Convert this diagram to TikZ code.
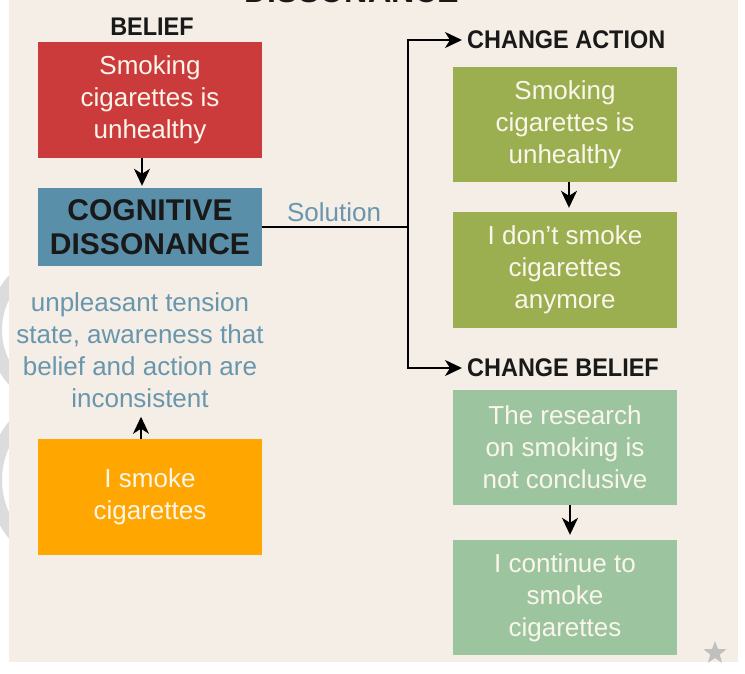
\documentclass[tikz,border=0pt]{standalone}
\usepackage{fontspec}
\setmainfont{Liberation Sans}
\newfontfamily\hdfont[FakeStretch=0.92]{Liberation Sans}
\usetikzlibrary{arrows.meta,shapes.geometric}
\definecolor{bg}{HTML}{F4EEE6}
\definecolor{cred}{HTML}{CC3B3B}
\definecolor{cblue}{HTML}{5A8FAA}
\definecolor{colive}{HTML}{9BAF50}
\definecolor{csage}{HTML}{9CC49E}
\definecolor{corange}{HTML}{FFA600}
\definecolor{ctxt}{HTML}{6996AD}
\definecolor{cwhite}{HTML}{FBF6EC}
\definecolor{wm}{HTML}{DCDCDC}
\begin{document}
\begin{tikzpicture}[x=1pt,y=-1pt,
  box/.style={minimum width=224pt,inner sep=0pt,align=center,text=cwhite,font=\fontsize{26}{32}\selectfont},
  tall/.style={box,minimum height=116pt},
  hd/.style={font=\hdfont\bfseries\fontsize{25.5}{30}\selectfont,inner sep=0pt,text=black!90},
  arr/.style={line width=1.8pt,-{Stealth[length=17pt,width=16pt,inset=5pt]}},
  ln/.style={line width=1.8pt}]
\useasboundingbox (0,0) rectangle (745,673);
\fill[white] (0,0) rectangle (745,673);
% watermark fragments at the left edge
\begin{scope}
  \clip (0,230) rectangle (12,580);
  \draw[wm,line width=14pt] (70,330) circle (75);
  \draw[wm,line width=14pt] (80,480) circle (85);
\end{scope}
\fill[bg] (9,0) rectangle (738,662);
% clipped title
\begin{scope}
  \clip (9,0) rectangle (738,662);
  \node[hd,font=\hdfont\bfseries\fontsize{35}{40}\selectfont,anchor=base] (title) at (352,2) {DISSONANCE};
\end{scope}
% left column
\node[hd] (bl) at (152,27) {BELIEF};
\node[tall,fill=cred] (belief) at (150,100) {Smoking\\cigarettes is\\unhealthy};
\node[box,minimum height=78pt,fill=cblue,text=black!90,font=\bfseries\fontsize{30}{34}\selectfont] (cd) at (150,227) {COGNITIVE\\DISSONANCE};
\node[align=center,text=ctxt,font=\fontsize{26}{32}\selectfont,inner sep=0pt] (tension) at (140,350) {unpleasant tension\\state, awareness that\\belief and action are\\inconsistent};
\node[tall,fill=corange] (act) at (150,497) {I smoke\\cigarettes};
\draw[arr,shorten >=2pt] ([xshift=-8pt]belief.south) -- ([xshift=-8pt]cd.north);
\draw[arr,shorten >=9pt] ([xshift=-9pt]act.north) -- ([xshift=-9pt]act.north |- tension.south);
% solution connector
\node[text=ctxt,font=\fontsize{26}{32}\selectfont,inner sep=0pt] (sol) at (334,212) {Solution};
\coordinate (j) at (408,227);
\draw[ln] (cd.east) -- (j);
\node[hd,anchor=west,inner xsep=5pt] (ca) at (462,40) {CHANGE ACTION};
\node[hd,anchor=west,inner xsep=5pt] (cb) at (462,368) {CHANGE BELIEF};
\draw[arr] (j) |- (ca.west);
\draw[arr] (j) |- (cb.west);
% right column
\node[tall,minimum height=115pt,fill=colive] (g1) at (565,124.5) {Smoking\\cigarettes is\\unhealthy};
\node[tall,fill=colive] (g2) at (565,270) {I don’t smoke\\cigarettes\\anymore};
\node[tall,minimum height=115pt,fill=csage] (s1) at (565,447.5) {The research\\on smoking is\\not conclusive};
\node[tall,minimum height=115pt,fill=csage] (s2) at (565,597.5) {I continue to\\smoke\\cigarettes};
\draw[arr,shorten >=4pt] ([xshift=4pt]g1.south) -- ([xshift=4pt]g2.north);
\draw[arr,shorten >=5pt] ([xshift=5pt]s1.south) -- ([xshift=5pt]s2.north);
% star
\node[star,star points=5,star point ratio=2.4,fill=gray!50,minimum size=24pt,inner sep=0pt] (st) at (715,653) {};
\end{tikzpicture}
\end{document}
